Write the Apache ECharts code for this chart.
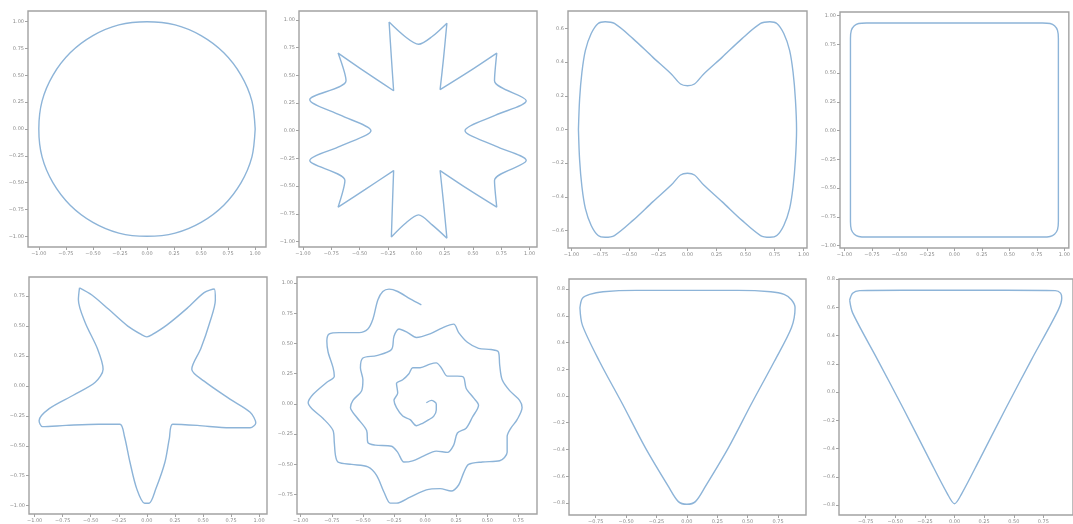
<!DOCTYPE html>
<html>
<head>
<meta charset="utf-8">
<script src="https://cdn.jsdelivr.net/npm/echarts@6/dist/echarts.min.js"></script>
<style>
  html, body { margin: 0; padding: 0; background: #fff; }
  #chart { width: 1073px; height: 524px; }
</style>
</head>
<body>
<div id="chart"></div>
<script>
// 各子图曲线上的点 (x, y)
const circlePts = [
  [1, 0], [0.97, 0.26], [0.87, 0.5], [0.71, 0.71], [0.5, 0.87], [0.26, 0.97], [0, 1],
  [-0.26, 0.97], [-0.5, 0.87], [-0.71, 0.71], [-0.87, 0.5], [-0.97, 0.26], [-1, 0],
  [-0.97, -0.26], [-0.87, -0.5], [-0.71, -0.71], [-0.5, -0.87], [-0.26, -0.97], [0, -1],
  [0.26, -0.97], [0.5, -0.87], [0.71, -0.71], [0.87, -0.5], [0.97, -0.26], [1, 0]
];
const flowerPts = [
  [-0.24, 0.98], [-0.1, 0.85], [0.02, 0.78], [0.14, 0.85], [0.27, 0.97], [0.24, 0.65], [0.21, 0.37],
  [0.46, 0.53], [0.71, 0.70], [0.69, 0.45], [0.97, 0.27], [0.7, 0.14], [0.43, 0.0], [0.7, -0.14],
  [0.97, -0.27], [0.69, -0.45], [0.71, -0.69], [0.46, -0.53], [0.21, -0.36], [0.24, -0.65],
  [0.27, -0.97], [0.14, -0.85], [0.02, -0.76], [-0.1, -0.84], [-0.22, -0.96], [-0.21, -0.65],
  [-0.2, -0.36], [-0.45, -0.53], [-0.69, -0.69], [-0.63, -0.45], [-0.94, -0.27], [-0.67, -0.14],
  [-0.4, 0.0], [-0.67, 0.14], [-0.94, 0.28], [-0.62, 0.45], [-0.69, 0.70], [-0.45, 0.53],
  [-0.2, 0.36], [-0.22, 0.66], [-0.24, 0.98]
];
const bowtiePts = [
  [-0.94, 0], [-0.93, 0.18], [-0.91, 0.34], [-0.88, 0.47], [-0.83, 0.57], [-0.77, 0.63], [-0.71, 0.64],
  [-0.63, 0.63], [-0.47, 0.54], [-0.30, 0.43], [-0.14, 0.33], [-0.06, 0.27], [0, 0.26], [0.06, 0.27],
  [0.14, 0.33], [0.30, 0.43], [0.47, 0.54], [0.63, 0.63], [0.71, 0.64], [0.77, 0.63], [0.83, 0.57],
  [0.88, 0.47], [0.91, 0.34], [0.93, 0.18], [0.94, 0], [0.93, -0.18], [0.91, -0.34], [0.88, -0.47],
  [0.83, -0.57], [0.77, -0.63], [0.71, -0.64], [0.63, -0.63], [0.47, -0.54], [0.30, -0.43],
  [0.14, -0.33], [0.06, -0.27], [0, -0.26], [-0.06, -0.27], [-0.14, -0.33], [-0.30, -0.43],
  [-0.47, -0.54], [-0.63, -0.63], [-0.71, -0.64], [-0.77, -0.63], [-0.83, -0.57], [-0.88, -0.47],
  [-0.91, -0.34], [-0.93, -0.18], [-0.94, 0]
];
const squarePts = [
  [0.945, 0], [0.945, 0.4], [0.945, 0.8], [0.937, 0.87], [0.91, 0.91], [0.87, 0.93], [0.8, 0.935],
  [0.4, 0.935], [0, 0.935], [-0.4, 0.935], [-0.8, 0.935], [-0.87, 0.93], [-0.91, 0.91], [-0.937, 0.87],
  [-0.945, 0.8], [-0.945, 0.4], [-0.945, 0], [-0.945, -0.4], [-0.945, -0.79], [-0.937, -0.86],
  [-0.91, -0.9], [-0.87, -0.92], [-0.8, -0.925], [-0.4, -0.925], [0, -0.925], [0.4, -0.925],
  [0.8, -0.925], [0.87, -0.92], [0.91, -0.9], [0.937, -0.86], [0.945, -0.79], [0.945, -0.4], [0.945, 0]
];
const starPts = [
  [-0.6, 0.82], [-0.49, 0.76], [-0.34, 0.64], [-0.17, 0.5], [-0.05, 0.43], [0, 0.41], [0.05, 0.43],
  [0.18, 0.51], [0.36, 0.65], [0.51, 0.78], [0.6, 0.81], [0.61, 0.72], [0.56, 0.53], [0.48, 0.31],
  [0.4, 0.14], [0.51, 0.04], [0.74, -0.11], [0.92, -0.22], [0.97, -0.31], [0.92, -0.35], [0.74, -0.35],
  [0.45, -0.33], [0.23, -0.32], [0.2, -0.44], [0.16, -0.64], [0.08, -0.86], [0.02, -0.98],
  [-0.02, -0.98], [-0.09, -0.86], [-0.15, -0.64], [-0.2, -0.42], [-0.24, -0.32], [-0.43, -0.32],
  [-0.72, -0.33], [-0.93, -0.34], [-0.96, -0.29], [-0.87, -0.19], [-0.66, -0.08], [-0.46, 0.03],
  [-0.39, 0.14], [-0.44, 0.31], [-0.55, 0.53], [-0.61, 0.72], [-0.6, 0.82]
];
const spiralPts = [
  [-0.03, 0.82], [-0.12, 0.87], [-0.22, 0.93], [-0.29, 0.95], [-0.34, 0.93], [-0.38, 0.86], [-0.42, 0.7],
  [-0.46, 0.62], [-0.53, 0.59], [-0.69, 0.59], [-0.77, 0.58], [-0.79, 0.52], [-0.78, 0.43], [-0.74, 0.3],
  [-0.73, 0.23], [-0.79, 0.18], [-0.9, 0.08], [-0.94, 0.01], [-0.91, -0.04], [-0.82, -0.12],
  [-0.74, -0.22], [-0.73, -0.32], [-0.72, -0.43], [-0.7, -0.48], [-0.59, -0.5], [-0.46, -0.52],
  [-0.39, -0.59], [-0.33, -0.73], [-0.28, -0.82], [-0.23, -0.82], [-0.12, -0.77], [0.01, -0.71],
  [0.12, -0.7], [0.21, -0.72], [0.27, -0.67], [0.31, -0.57], [0.35, -0.5], [0.46, -0.48], [0.6, -0.47],
  [0.66, -0.4], [0.66, -0.27], [0.69, -0.2], [0.74, -0.13], [0.78, -0.03], [0.76, 0.03], [0.68, 0.11],
  [0.62, 0.2], [0.6, 0.32], [0.59, 0.43], [0.53, 0.45], [0.43, 0.46], [0.34, 0.51], [0.27, 0.59],
  [0.23, 0.66], [0.14, 0.63], [0.04, 0.58], [-0.07, 0.55], [-0.14, 0.59], [-0.21, 0.62], [-0.25, 0.56],
  [-0.27, 0.45], [-0.39, 0.4], [-0.5, 0.38], [-0.52, 0.3], [-0.5, 0.2], [-0.51, 0.11], [-0.58, 0.03],
  [-0.6, -0.03], [-0.55, -0.11], [-0.47, -0.22], [-0.46, -0.32], [-0.4, -0.34], [-0.27, -0.35],
  [-0.22, -0.4], [-0.17, -0.48], [-0.1, -0.47], [-0.01, -0.43], [0.09, -0.39], [0.18, -0.4],
  [0.23, -0.34], [0.26, -0.24], [0.33, -0.2], [0.38, -0.11], [0.43, -0.01], [0.39, 0.05], [0.33, 0.13],
  [0.31, 0.22], [0.26, 0.23], [0.18, 0.23], [0.13, 0.3], [0.09, 0.34], [0.04, 0.33], [-0.04, 0.3],
  [-0.1, 0.3], [-0.13, 0.25], [-0.18, 0.2], [-0.23, 0.17], [-0.22, 0.09], [-0.25, 0.03], [-0.23, -0.03],
  [-0.18, -0.1], [-0.12, -0.13], [-0.07, -0.18], [-0.02, -0.16], [0.03, -0.13], [0.07, -0.1],
  [0.09, -0.05], [0.09, 0.0], [0.05, 0.03], [0.01, 0.01]
];
const roundTriPts = [
  [-0.88, 0.66], [-0.86, 0.73], [-0.8, 0.76], [-0.69, 0.78], [-0.42, 0.79], [0, 0.79], [0.42, 0.79],
  [0.69, 0.78], [0.8, 0.76], [0.86, 0.72], [0.89, 0.66], [0.86, 0.51], [0.72, 0.26], [0.53, -0.06],
  [0.34, -0.39], [0.15, -0.68], [0.07, -0.79], [0, -0.81], [-0.07, -0.79], [-0.15, -0.68],
  [-0.34, -0.39], [-0.53, -0.06], [-0.72, 0.26], [-0.86, 0.53], [-0.88, 0.66]
];
const sharpTriPts = [
  [-0.885, 0.65], [-0.86, 0.7], [-0.8, 0.718], [-0.44, 0.72], [0, 0.72], [0.43, 0.72], [0.85, 0.718],
  [0.895, 0.7], [0.905, 0.665], [0.875, 0.58], [0.65, 0.23], [0.43, -0.12], [0.21, -0.48], [0.06, -0.72],
  [0, -0.79], [-0.06, -0.72], [-0.21, -0.48], [-0.43, -0.12], [-0.65, 0.23], [-0.86, 0.56], [-0.885, 0.65]
];

// 刻度
const ticksQuarter = [-1, -0.75, -0.5, -0.25, 0, 0.25, 0.5, 0.75, 1];
const ticksBowY = [-0.6, -0.4, -0.2, 0, 0.2, 0.4, 0.6];
const ticksStarY = [-1, -0.75, -0.5, -0.25, 0, 0.25, 0.5, 0.75];
const ticksSpiralX = [-1, -0.75, -0.5, -0.25, 0, 0.25, 0.5, 0.75];
const ticksSpiralY = [-0.75, -0.5, -0.25, 0, 0.25, 0.5, 0.75, 1];
const ticksTriX = [-0.75, -0.5, -0.25, 0, 0.25, 0.5, 0.75];
const ticksTriY = [-0.8, -0.6, -0.4, -0.2, 0, 0.2, 0.4, 0.6, 0.8];

const panels = [
  { pts: circlePts, box: [28, 11, 238, 236], xr: [-1.1, 1.1], yr: [-1.1, 1.1], xt: ticksQuarter, yt: ticksQuarter, xd: 2, yd: 2 },
  { pts: flowerPts, box: [299, 11, 238, 236], xr: [-1.035, 1.065], yr: [-1.05, 1.08], xt: ticksQuarter, yt: ticksQuarter, xd: 2, yd: 2 },
  { pts: bowtiePts, box: [568, 11, 239, 237], xr: [-1.03, 1.03], yr: [-0.704, 0.704], xt: ticksQuarter, yt: ticksBowY, xd: 2, yd: 1 },
  { pts: squarePts, box: [840, 12, 238, 236], xr: [-1.04, 1.04], yr: [-1.02, 1.03], xt: ticksQuarter, yt: ticksQuarter, xd: 2, yd: 2 },
  { pts: starPts, box: [29, 277, 238, 237], xr: [-1.05, 1.07], yr: [-1.07, 0.91], xt: ticksQuarter, yt: ticksStarY, xd: 2, yd: 2 },
  { pts: spiralPts, box: [297, 277, 240, 237], xr: [-1.03, 0.9], yr: [-0.91, 1.05], xt: ticksSpiralX, yt: ticksSpiralY, xd: 2, yd: 2 },
  { pts: roundTriPts, box: [569, 279, 237, 236], xr: [-0.97, 0.98], yr: [-0.89, 0.875], xt: ticksTriX, yt: ticksTriY, xd: 2, yd: 1 },
  { pts: sharpTriPts, box: [839, 279, 237, 236], xr: [-0.975, 1.0], yr: [-0.87, 0.8], xt: ticksTriX, yt: ticksTriY, xd: 2, yd: 1 }
];

const fmt = (d) => (v) => (v < 0 ? '\u2212' : '') + Math.abs(v).toFixed(d);
const labelStyle = { fontSize: 5, color: '#8a8a8a', fontFamily: 'DejaVu Sans' };

const option = {
  animation: false,
  backgroundColor: '#fff',
  grid: panels.map(p => ({
    left: p.box[0], top: p.box[1], width: p.box[2], height: p.box[3],
    show: true, borderColor: '#a2a2a2', borderWidth: 1.4, backgroundColor: 'transparent'
  })),
  xAxis: panels.map((p, i) => ({
    type: 'value', gridIndex: i, min: p.xr[0], max: p.xr[1], position: 'bottom',
    axisLine: { show: false, onZero: false },
    splitLine: { show: false },
    axisTick: { show: true, inside: false, length: 3, customValues: p.xt, lineStyle: { color: '#a2a2a2' } },
    axisLabel: Object.assign({ margin: 4, customValues: p.xt, formatter: fmt(p.xd) }, labelStyle)
  })),
  yAxis: panels.map((p, i) => ({
    type: 'value', gridIndex: i, min: p.yr[0], max: p.yr[1], position: 'left',
    axisLine: { show: false, onZero: false },
    splitLine: { show: false },
    axisTick: { show: true, inside: false, length: 3, customValues: p.yt, lineStyle: { color: '#a2a2a2' } },
    axisLabel: Object.assign({ margin: 4, customValues: p.yt, formatter: fmt(p.yd) }, labelStyle)
  })),
  series: panels.map((p, i) => ({
    type: 'line', xAxisIndex: i, yAxisIndex: i,
    data: p.pts, showSymbol: false, smooth: 0.3,
    lineStyle: { color: '#8db4d8', width: 1.4 }
  }))
};

const myChart = echarts.init(document.getElementById('chart'));
myChart.setOption(option);
</script>
</body>
</html>
